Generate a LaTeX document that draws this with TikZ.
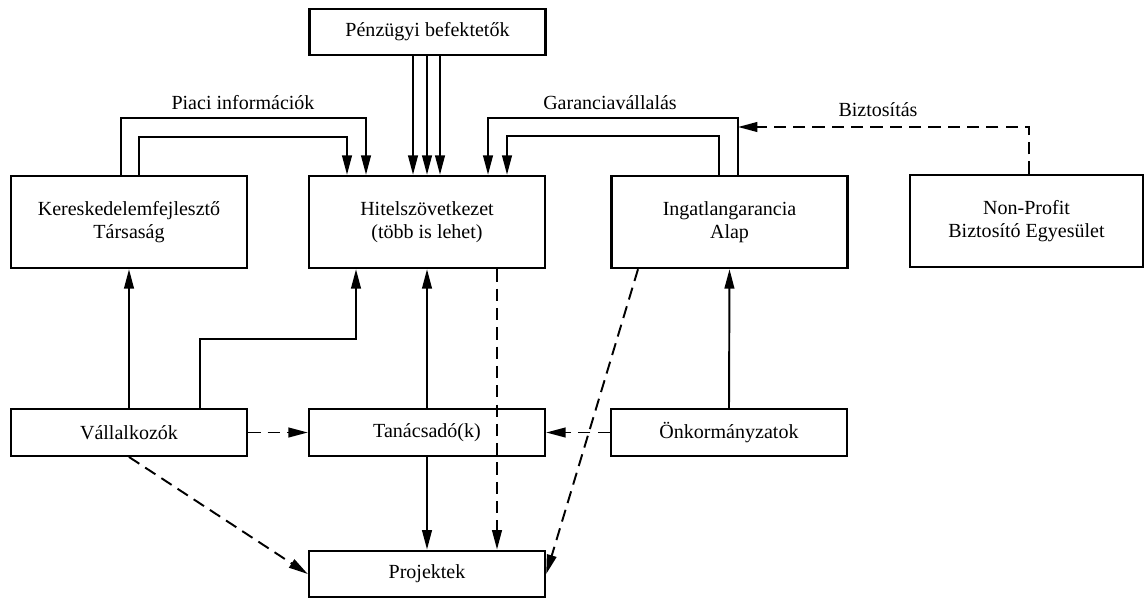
\documentclass[tikz,border=0pt]{standalone}
\usepackage{fontspec}
\setmainfont{Liberation Serif}
\usetikzlibrary{arrows.meta}

\begin{document}
\begin{tikzpicture}[x=0.02cm,y=-0.02cm,
  every node/.style={font=\fontsize{11.4}{13}\selectfont},
  box/.style={draw,line width=1.4pt,align=center,inner sep=0pt,minimum width=4.72cm,minimum height=1.84cm},
  lowbox/.style={box,minimum height=0.93cm},
  arr/.style={line width=1.1pt,-{Triangle[length=11pt,width=5.5pt]}},
  darr/.style={arr,dash pattern=on 7pt off 4pt}]
\useasboundingbox (0,0) rectangle (1145,598);
\node[lowbox] (penz) at (427.5,32) {Pénzügyi befektetők};
\node[box] (kt) at (129,222) {Kereskedelemfejlesztő\\Társaság};
\node[box] (hitel) at (427,222) {Hitelszövetkezet\\(több is lehet)};
\node[box] (ing) at (729.5,222) {Ingatlangarancia\\Alap};
\node[box,minimum width=4.66cm] (np) at (1026.5,221) {Non-Profit\\Biztosító Egyesület};
\node[lowbox] (vall) at (129,432.5) {Vállalkozók};
\node[lowbox] (tan) at (427,432.5) {Tanácsadó(k)};
\node[lowbox] (onk) at (729,432.5) {Önkormányzatok};
\node[lowbox] (proj) at (427,574) {Projektek};
\node (piaci) at (243,103) {Piaci információk};
\node (garancia) at (610,103) {Garanciavállalás};
\node (biztos) at (878,110) {Biztosítás};
\coordinate (gar) at (738,127);
\foreach \x in {413,427,440}
  \draw[arr] (penz.south -| \x,0) -- (hitel.north -| \x,0);
\draw[arr] (kt.north -| 121,0) |- (366,118) -- (hitel.north -| 366,0);
\draw[arr] (kt.north -| 139,0) |- (347,137) -- (hitel.north -| 347,0);
\draw[arr] (ing.north -| 738,0) |- (488,118) -- (hitel.north -| 488,0);
\draw[arr] (ing.north -| 719,0) |- (507,136) -- (hitel.north -| 507,0);
\draw[darr] (np.north -| 1029,0) |- (gar);
\draw[arr] (vall.north) -- (kt.south);
\draw[arr] (vall.north -| 200,0) |- (356,339) -- (hitel.south -| 356,0);
\draw[arr] (tan.north) -- (hitel.south);
\draw[arr] (onk.north) -- (ing.south);
\draw[arr] (tan.south) -- (proj.north);
\draw[darr] (hitel.south -| 497,0) -- (proj.north -| 497,0);
\draw[darr] (vall.east) -- (tan.west);
\draw[darr] (onk.west) -- (tan.east);
\draw[darr] (vall.south) -- (proj.west);
\draw[darr] (ing.south -| 638,0) -- (proj.east);
\end{tikzpicture}
\end{document}
